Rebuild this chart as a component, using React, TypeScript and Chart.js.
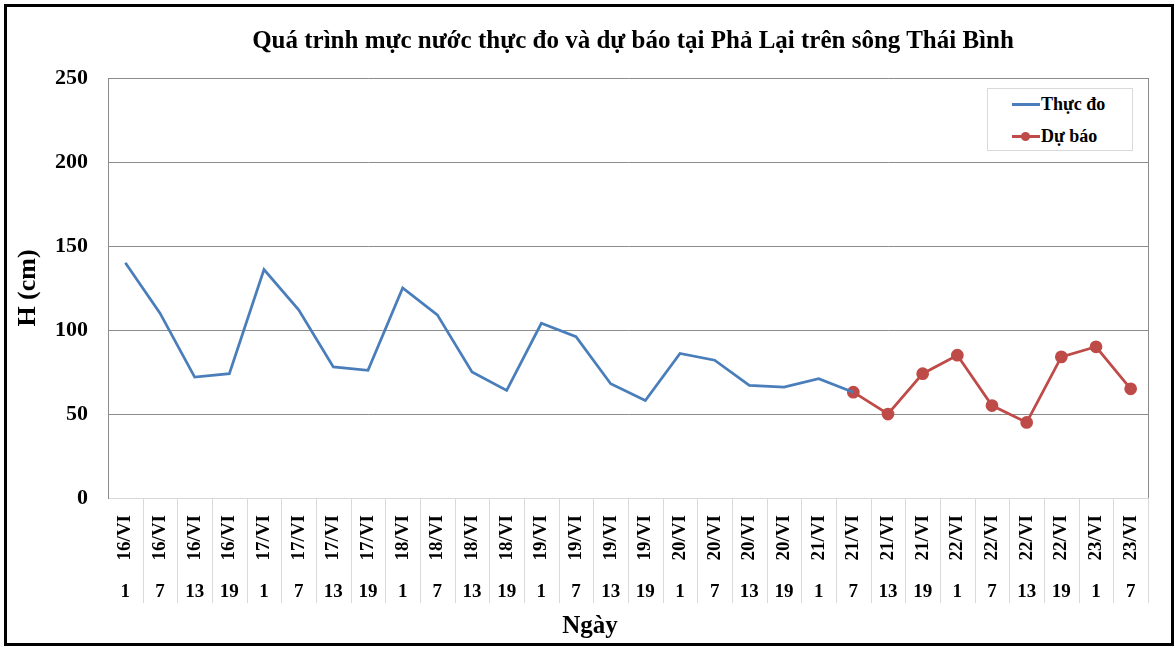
import React, { useEffect, useRef } from "react";
import { Chart, registerables } from "chart.js";

Chart.register(...registerables);

const TITLE = "Quá trình mực nước thực đo và dự báo tại Phả Lại trên sông Thái Bình";
const X_TITLE = "Ngày";
const Y_TITLE = "H (cm)";
const SERIES_OBSERVED = "Thực đo";
const SERIES_FORECAST = "Dự báo";

const dateLabels = [
  "16/VI", "16/VI", "16/VI", "16/VI",
  "17/VI", "17/VI", "17/VI", "17/VI",
  "18/VI", "18/VI", "18/VI", "18/VI",
  "19/VI", "19/VI", "19/VI", "19/VI",
  "20/VI", "20/VI", "20/VI", "20/VI",
  "21/VI", "21/VI", "21/VI", "21/VI",
  "22/VI", "22/VI", "22/VI", "22/VI",
  "23/VI", "23/VI",
];
const hourLabels = [
  "1", "7", "13", "19",
  "1", "7", "13", "19",
  "1", "7", "13", "19",
  "1", "7", "13", "19",
  "1", "7", "13", "19",
  "1", "7", "13", "19",
  "1", "7", "13", "19",
  "1", "7",
];

// Thực đo: 16/VI 1h .. 21/VI 7h
const observedValues = [
  140, 110, 72, 74,
  136, 112, 78, 76,
  125, 109, 75, 64,
  104, 96, 68, 58,
  86, 82, 67, 66,
  71, 63,
];
// Dự báo: 21/VI 7h .. 23/VI 7h
const forecastStartIndex = 21;
const forecastValues = [63, 50, 74, 85, 55, 45, 84, 90, 65];

const yTicks = [0, 50, 100, 150, 200, 250];

const BLUE = "#4a7ebb";
const RED = "#be4b48";
const GRID = "#8c8c8c";
const LIGHT = "#d9d9d9";
const FONT = "'Liberation Serif', 'Times New Roman', serif";

const separatorPlugin = {
  id: "separators",
  afterDraw(chart: any) {
    const { ctx, chartArea, scales } = chart;
    const xs = scales.x;
    const x2 = scales.x2;
    const n = dateLabels.length;
    const step = xs.getPixelForTick(1) - xs.getPixelForTick(0);
    ctx.save();
    ctx.lineWidth = 1;
    ctx.strokeStyle = LIGHT;
    for (let i = 0; i < n; i++) {
      const px = Math.round(xs.getPixelForTick(i) + step / 2) + 0.5;
      ctx.beginPath();
      ctx.moveTo(px, chartArea.bottom);
      ctx.lineTo(px, x2.bottom);
      ctx.stroke();
    }
    ctx.strokeStyle = GRID;
    const rx = Math.round(chartArea.right) + 0.5;
    ctx.beginPath();
    ctx.moveTo(rx, chartArea.top);
    ctx.lineTo(rx, chartArea.bottom);
    ctx.stroke();
    ctx.restore();
  },
};

export default function App() {
  const canvasRef = useRef<HTMLCanvasElement | null>(null);

  useEffect(() => {
    const canvas = canvasRef.current;
    if (!canvas) return;
    const n = dateLabels.length;
    const observedData: (number | null)[] = [];
    const forecastData: (number | null)[] = [];
    for (let i = 0; i < n; i++) {
      observedData.push(i < observedValues.length ? observedValues[i] : null);
      const fi = i - forecastStartIndex;
      forecastData.push(fi >= 0 && fi < forecastValues.length ? forecastValues[fi] : null);
    }

    const chart = new Chart(canvas, {
      type: "line",
      data: {
        labels: dateLabels,
        datasets: [
          {
            label: SERIES_OBSERVED,
            data: observedData,
            borderColor: BLUE,
            backgroundColor: BLUE,
            borderWidth: 2.75,
            pointRadius: 0,
            tension: 0,
            spanGaps: false,
            xAxisID: "x",
            yAxisID: "y",
          },
          {
            label: SERIES_FORECAST,
            data: forecastData,
            borderColor: RED,
            backgroundColor: RED,
            pointBackgroundColor: RED,
            pointBorderColor: RED,
            borderWidth: 2.75,
            pointRadius: 5,
            tension: 0,
            spanGaps: false,
            xAxisID: "x",
            yAxisID: "y",
          },
        ],
      },
      options: {
        animation: false,
        responsive: false,
        events: [],
        layout: { padding: { left: 0, right: 28, top: 78, bottom: 44 } },
        plugins: {
          legend: { display: false },
          title: { display: false },
          tooltip: { enabled: false },
        },
        scales: {
          x: {
            type: "category",
            labels: dateLabels,
            offset: true,
            position: "bottom",
            weight: 0,
            grid: { display: false },
            border: { display: true, color: LIGHT, width: 1 },
            ticks: {
              autoSkip: false,
              minRotation: 90,
              maxRotation: 90,
              padding: 9,
              color: "#000",
              font: { family: FONT, size: 19, weight: "bold" },
            },
            afterFit: (s: any) => {
              s.height = 67;
            },
          },
          x2: {
            type: "category",
            labels: hourLabels,
            offset: true,
            position: "bottom",
            weight: 1,
            grid: { display: false },
            border: { display: false },
            ticks: {
              autoSkip: false,
              minRotation: 0,
              maxRotation: 0,
              padding: 8,
              color: "#000",
              font: { family: FONT, size: 19, weight: "bold" },
            },
            afterFit: (s: any) => {
              s.height = 38;
            },
          },
          y: {
            min: 0,
            max: 250,
            afterBuildTicks: (s: any) => {
              s.ticks = yTicks.map((v) => ({ value: v }));
            },
            grid: {
              color: (c: any) => (c.tick && c.tick.value === 0 ? "rgba(0,0,0,0)" : GRID),
              drawTicks: false,
              lineWidth: 1,
            },
            border: { display: true, color: GRID, width: 1 },
            ticks: {
              padding: 20,
              color: "#000",
              font: { family: FONT, size: 22, weight: "bold" },
            },
            title: {
              display: true,
              text: Y_TITLE,
              color: "#000",
              font: { family: FONT, size: 26, weight: "bold" },
              padding: { top: 13, bottom: 0 },
            },
            afterFit: (s: any) => {
              s.width = 108;
            },
          },
        },
      },
      plugins: [separatorPlugin],
    });
    return () => chart.destroy();
  }, []);

  const legendText: React.CSSProperties = {
    fontFamily: FONT,
    fontWeight: "bold",
    fontSize: 18,
    color: "#000",
    lineHeight: "20px",
    whiteSpace: "nowrap",
  };

  return (
    <div style={{ position: "absolute", left: 0, top: 0, width: 1176, height: 647, background: "#fff" }}>
      <canvas
        ref={canvasRef}
        width={1176}
        height={647}
        style={{ position: "absolute", left: 0, top: 0, width: 1176, height: 647, display: "block" }}
      />
      <div
        style={{
          position: "absolute",
          left: 133,
          top: 25,
          width: 1000,
          textAlign: "center",
          fontFamily: FONT,
          fontWeight: "bold",
          fontSize: 25,
          lineHeight: "30px",
          color: "#000",
          whiteSpace: "nowrap",
        }}
      >
        {TITLE}
      </div>
      <div
        style={{
          position: "absolute",
          left: 490,
          top: 610,
          width: 200,
          textAlign: "center",
          fontFamily: FONT,
          fontWeight: "bold",
          fontSize: 25,
          lineHeight: "30px",
          color: "#000",
        }}
      >
        {X_TITLE}
      </div>
      <div
        style={{
          position: "absolute",
          left: 987,
          top: 88,
          width: 146,
          height: 63,
          boxSizing: "border-box",
          border: `1px solid ${LIGHT}`,
          background: "#fff",
        }}
      >
        <div style={{ position: "absolute", left: 24, top: 14, width: 28, height: 3, background: BLUE }} />
        <div style={{ ...legendText, position: "absolute", left: 53, top: 5 }}>{SERIES_OBSERVED}</div>
        <div style={{ position: "absolute", left: 24, top: 46, width: 28, height: 3, background: RED }} />
        <div
          style={{
            position: "absolute",
            left: 33,
            top: 43,
            width: 9,
            height: 9,
            borderRadius: "50%",
            background: RED,
          }}
        />
        <div style={{ ...legendText, position: "absolute", left: 53, top: 37 }}>{SERIES_FORECAST}</div>
      </div>
      <div
        style={{
          position: "absolute",
          left: 4,
          top: 4,
          width: 1170,
          height: 642,
          boxSizing: "border-box",
          border: "3px solid #000",
          pointerEvents: "none",
        }}
      />
    </div>
  );
}
